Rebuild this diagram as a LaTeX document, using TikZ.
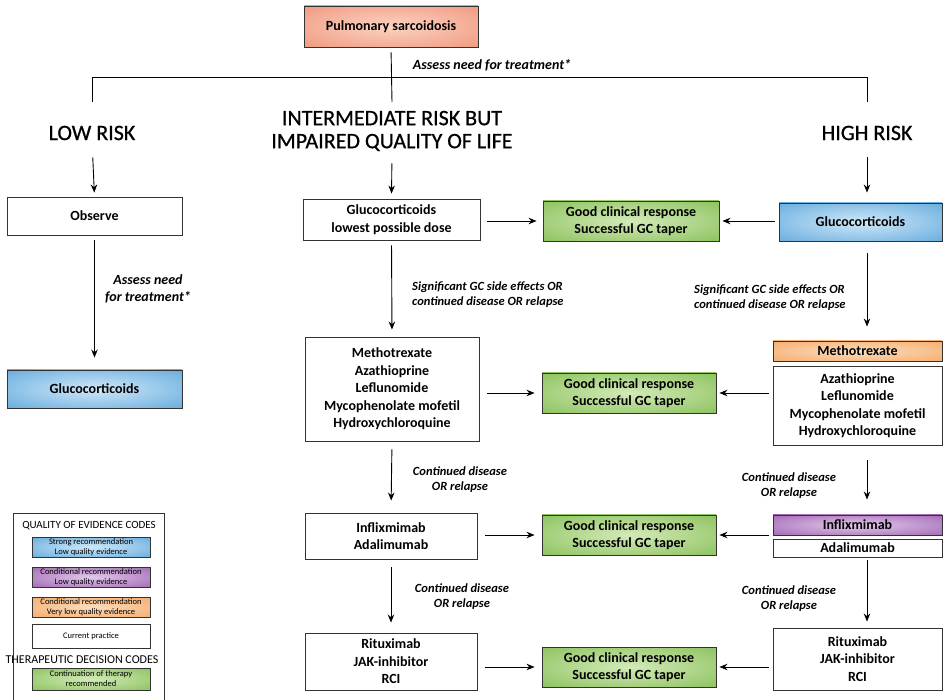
\documentclass[tikz,border=0pt]{standalone}
\usepackage{fontspec}
\setmainfont{Carlito}
\usetikzlibrary{arrows.meta}
\definecolor{bordc}{HTML}{333333}
\definecolor{salout}{HTML}{EE8B70}
\definecolor{salin}{HTML}{FBD3C2}
\definecolor{bluout}{HTML}{4F9ED8}
\definecolor{bluin}{HTML}{CFE8F8}
\definecolor{greout}{HTML}{7BB848}
\definecolor{grein}{HTML}{D3EAB8}
\definecolor{purout}{HTML}{9152A8}
\definecolor{purin}{HTML}{E3C8EA}
\definecolor{oraout}{HTML}{F4A15A}
\definecolor{orain}{HTML}{FBDDBE}
\pgfdeclareradialshading{shsal}{\pgfpoint{0bp}{0bp}}{color(0bp)=(salin); color(45bp)=(salout); color(80bp)=(salout)}
\pgfdeclareradialshading{shblu}{\pgfpoint{0bp}{0bp}}{color(0bp)=(bluin); color(45bp)=(bluout); color(80bp)=(bluout)}
\pgfdeclareradialshading{shgre}{\pgfpoint{0bp}{0bp}}{color(0bp)=(grein); color(45bp)=(greout); color(80bp)=(greout)}
\pgfdeclareradialshading{shpur}{\pgfpoint{0bp}{0bp}}{color(0bp)=(purin); color(45bp)=(purout); color(80bp)=(purout)}
\pgfdeclareradialshading{shora}{\pgfpoint{0bp}{0bp}}{color(0bp)=(orain); color(45bp)=(oraout); color(80bp)=(oraout)}
\newcommand\bxfont{\fontsize{14}{17.5}\selectfont\bfseries}
\newcommand\lbfont{\fontsize{12.5}{15}\selectfont\bfseries\itshape}
\newcommand\hdfont{\fontsize{22}{23}\selectfont\addfontfeatures{FakeBold=0.7}}
\newcommand\lgfont{\fontsize{8.5}{10}\selectfont}
\begin{document}
\begin{tikzpicture}[x=1pt,y=-1pt,
  box/.style={draw=bordc, line width=0.9pt, inner sep=0pt, align=center, font=\bxfont, fill=white},
  salbox/.style={box, shading=shsal},
  blubox/.style={box, shading=shblu},
  grebox/.style={box, shading=shgre},
  purbox/.style={box, shading=shpur},
  orabox/.style={box, shading=shora},
  lab/.style={font=\lbfont, align=center, inner sep=0pt},
  head/.style={font=\hdfont, align=center, inner sep=0pt},
  arr/.style={-{Stealth[length=8pt,width=6.5pt]}, line width=0.9pt, draw=black},
  ln/.style={line width=0.9pt, draw=black},
  lgbox/.style={draw=bordc, line width=0.6pt, inner sep=0pt, align=center, font=\lgfont, minimum width=118pt},
  lgtitle/.style={font=\fontsize{11}{12}\selectfont, inner sep=0pt}
]
\useasboundingbox (0,0) rectangle (943,700);
\fill[white] (0,0) rectangle (943,700);

% top
\node[salbox, minimum width=174pt, minimum height=41pt] (top) at (391,26.5) {Pulmonary sarcoidosis};
\coordinate (tj) at (392,102);
\coordinate (hl) at (92,77);
\coordinate (hr) at (867,77);
\coordinate (hlb) at (92,102);
\coordinate (hrb) at (867,102);
\draw[ln, shorten <=5pt] (top.south) -- (tj);
\draw[ln] (hl) -- (hr);
\draw[ln] (hl) -- (hlb);
\draw[ln] (hr) -- (hrb);
\node[lab, font=\fontsize{14}{15}\selectfont\bfseries\itshape] (toplab) at (492,65) {Assess need for treatment*};

% headings
\node[head] (lowh) at (92,133) {LOW RISK};
\node[head] (imh) at (392,131) {INTERMEDIATE RISK BUT\\IMPAIRED QUALITY OF LIFE};
\node[head] (hih) at (867,133) {HIGH RISK};

% left column
\node[box, minimum width=175pt, minimum height=38pt] (obs) at (94.5,216) {Observe};
\node[blubox, minimum width=175pt, minimum height=38pt] (gcL) at (94.5,389) {Glucocorticoids};
\draw[arr, shorten <=17pt, shorten >=4pt] (lowh.south) -- (obs.north);
\draw[arr, shorten <=5pt, shorten >=12pt] (obs.south) -- (gcL.north);
\node[lab, font=\fontsize{14}{17}\selectfont\bfseries\itshape] (obslab) at (148,289) {Assess need\\for treatment*};

% middle column
\node[box, minimum width=177pt, minimum height=41pt] (gcM) at (391.5,219.5) {Glucocorticoids\\lowest possible dose};
\node[box, minimum width=174pt, minimum height=104pt] (mM) at (392,389) {Methotrexate\\Azathioprine\\Leflunomide\\Mycophenolate mofetil\\Hydroxychloroquine};
\node[box, minimum width=172pt, minimum height=46pt] (iM) at (391,536) {Inflixmimab\\Adalimumab};
\node[box, minimum width=172pt, minimum height=57pt] (rM) at (391,661.5) {Rituximab\\JAK-inhibitor\\RCI};
\draw[arr, shorten <=12pt, shorten >=5pt] (imh.south) -- (gcM.north);
\draw[arr, shorten <=5pt, shorten >=7pt] (gcM.south) -- (mM.north);
\draw[arr, shorten <=8pt, shorten >=12pt] (mM.south) -- (iM.north);
\draw[arr, shorten <=8pt, shorten >=10pt] (iM.south) -- (rM.north);

% green boxes
\node[grebox, minimum width=176pt, minimum height=40pt] (g1) at (631,221) {Good clinical response\\Successful GC taper};
\node[grebox, minimum width=174pt, minimum height=40pt] (g2) at (629,393) {Good clinical response\\Successful GC taper};
\node[grebox, minimum width=174pt, minimum height=40pt] (g3) at (629,535) {Good clinical response\\Successful GC taper};
\node[grebox, minimum width=174pt, minimum height=40pt] (g4) at (629,667) {Good clinical response\\Successful GC taper};

\draw[arr, shorten <=7pt, shorten >=6pt] (g1.west -| gcM.east) -- (g1.west);
\draw[arr, shorten <=8pt, shorten >=7pt] (g2.west -| mM.east) -- (g2.west);
\draw[arr, shorten <=8pt, shorten >=7pt] (g3.west -| iM.east) -- (g3.west);
\draw[arr, shorten <=8pt, shorten >=7pt] (g4.west -| rM.east) -- (g4.west);

% right column
\node[blubox, minimum width=163pt, minimum height=38pt] (gcR) at (860.5,222) {Glucocorticoids};
\node[orabox, minimum width=169pt, minimum height=20pt] (mtxR) at (857.5,351) {Methotrexate};
\node[box, minimum width=169pt, minimum height=79pt] (azaR) at (857.5,405.5) {Azathioprine\\Leflunomide\\Mycophenolate mofetil\\Hydroxychloroquine};
\node[purbox, minimum width=169pt, minimum height=20pt] (infR) at (857.5,525) {Inflixmimab};
\node[box, minimum width=169pt, minimum height=18pt] (adaR) at (857.5,548) {Adalimumab};
\node[box, minimum width=169pt, minimum height=62pt] (rR) at (857.5,659) {Rituximab\\JAK-inhibitor\\RCI};

\draw[arr, shorten <=17pt, shorten >=10pt] (hih.south) -- (gcR.north -| hih.south);
\draw[arr, shorten <=12pt, shorten >=14pt] (gcR.south -| hih.south) -- (mtxR.north -| hih.south);
\draw[arr, shorten <=15pt, shorten >=15pt] (azaR.south -| hih.south) -- (infR.north -| hih.south);
\draw[arr, shorten <=3pt, shorten >=6pt] (adaR.south -| hih.south) -- (rR.north -| hih.south);

\draw[arr, shorten <=4pt, shorten >=3pt] (g1.east -| gcR.west) -- (g1.east);
\draw[arr, shorten <=4pt, shorten >=3pt] (g2.east -| azaR.west) -- (g2.east);
\draw[arr, shorten <=4pt, shorten >=3pt] (g3.east -| infR.west) -- (g3.east);
\draw[arr, shorten <=4pt, shorten >=3pt] (g4.east -| rR.west) -- (g4.east);

% labels
\node[lab, anchor=west, align=left] (l1) at (412,295) {Significant GC side effects OR\\continued disease OR relapse};
\node[lab, anchor=west, align=left] (r1) at (694,298) {Significant GC side effects OR\\continued disease OR relapse};
\node[lab] (l2) at (460,480) {Continued disease\\OR relapse};
\node[lab] (r2) at (789,486) {Continued disease\\OR relapse};
\node[lab] (l3) at (462,597) {Continued disease\\OR relapse};
\node[lab] (r3) at (789,599) {Continued disease\\OR relapse};

% legend
\coordinate (lga) at (13,702);
\coordinate (lgb) at (13,513);
\coordinate (lgc) at (164,513);
\coordinate (lgd) at (164,702);
\draw[line width=0.8pt, bordc] (lga) -- (lgb) -- (lgc) -- (lgd);
\node[lgtitle] (lgt1) at (89,526) {QUALITY OF EVIDENCE CODES};
\node[lgbox, shading=shblu, minimum height=20pt] (lg1) at (91,547) {Strong recommendation\\Low quality evidence};
\node[lgbox, shading=shpur, minimum height=20pt] (lg2) at (91,577) {Conditional recommendation\\Low quality evidence};
\node[lgbox, shading=shora, minimum height=20pt] (lg3) at (91,607) {Conditional recommendation\\Very low quality evidence};
\node[lgbox, fill=white, minimum height=24pt] (lg4) at (91,636) {Current practice};
\node[lgtitle, font=\fontsize{12}{13}\selectfont] (lgt2) at (82,660) {THERAPEUTIC DECISION CODES};
\node[lgbox, shading=shgre, minimum height=22pt] (lg5) at (91,679) {Continuation of therapy\\recommended};
\end{tikzpicture}
\end{document}
